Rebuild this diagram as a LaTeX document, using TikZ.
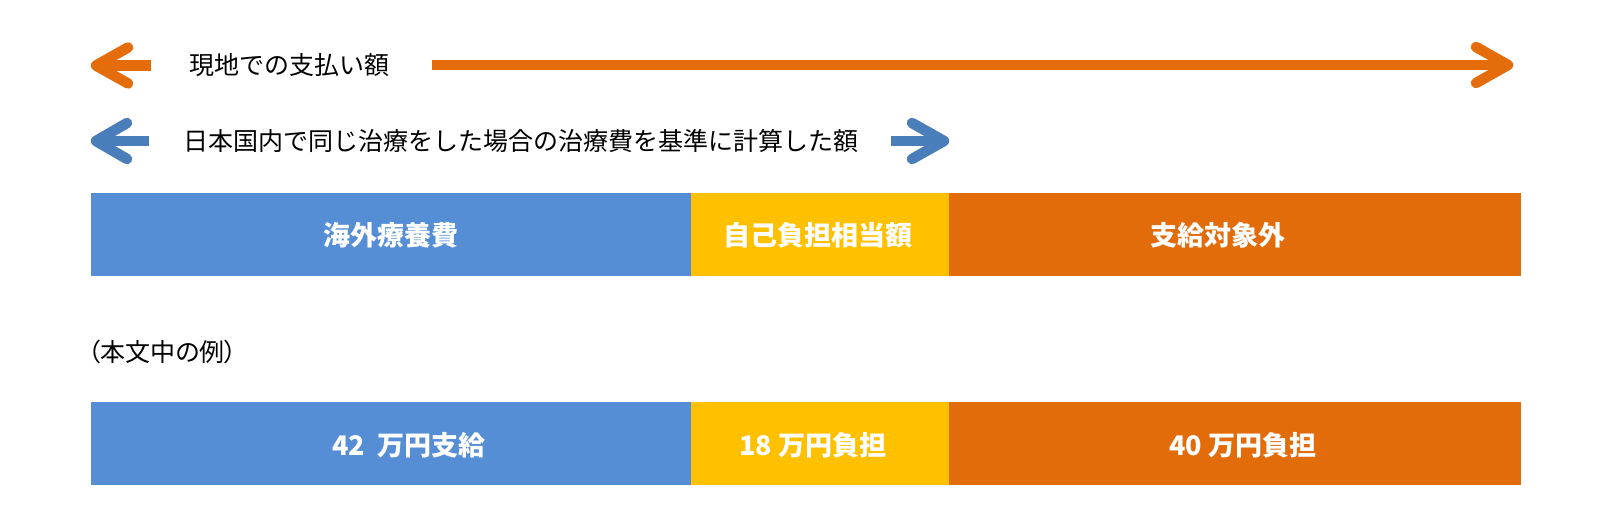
\documentclass[tikz,border=0pt]{standalone}
\usepackage{fontspec}
\setmainfont{Noto Sans CJK JP}
\newfontfamily\palfont[RawFeature=+palt]{Noto Sans CJK JP}
\definecolor{barblue}{HTML}{558ED5}
\definecolor{baryellow}{HTML}{FFC000}
\definecolor{barorange}{HTML}{E26C0A}
\definecolor{arrblue}{HTML}{4A7EBB}
\definecolor{arrorange}{HTML}{E46C0A}
\tikzset{
  seg/.style={inner sep=0pt, outer sep=0pt, minimum height=83pt},
  seglabel/.style={text=white, font=\fontsize{27}{30}\selectfont\bfseries, inner sep=0pt},
  toptext/.style={anchor=west, inner sep=0pt, font=\fontsize{25}{28}\selectfont, text=black},
  shaft/.style={line width=10.5pt, line cap=butt},
  chev/.style={line width=10.5pt, line cap=round, line join=round}
}
\begin{document}
\begin{tikzpicture}[x=1pt,y=-1pt]
\useasboundingbox[fill=white] (0,0) rectangle (1621,532);
% row 1: orange arrows
\coordinate (oLv) at (96,65.5);
\coordinate (oLe) at (151,65.5);
\coordinate (oLa) at (128,47.5);
\coordinate (oLb) at (128,83.5);
\draw[shaft, arrorange] (oLv) -- (oLe);
\draw[chev, arrorange] (oLa) -- (oLv) -- (oLb);
\node[toptext] (t1) at (189,65.5) {現地での支払い額};
\coordinate (oRs) at (432,65);
\coordinate (oRv) at (1508,65);
\coordinate (oRa) at (1476,47);
\coordinate (oRb) at (1476,83);
\draw[shaft, arrorange] (oRs) -- (oRv);
\draw[chev, arrorange] (oRa) -- (oRv) -- (oRb);
% row 2: blue arrows
\coordinate (bLv) at (96,141);
\coordinate (bLe) at (149,141);
\coordinate (bLa) at (127,123);
\coordinate (bLb) at (127,159);
\draw[shaft, arrblue] (bLv) -- (bLe);
\draw[chev, arrblue] (bLa) -- (bLv) -- (bLb);
\node[toptext] (t2) at (183,141) {日本国内で同じ治療をした場合の治療費を基準に計算した額};
\coordinate (bRs) at (891,141);
\coordinate (bRv) at (944,141);
\coordinate (bRa) at (912,123);
\coordinate (bRb) at (912,159);
\draw[shaft, arrblue] (bRs) -- (bRv);
\draw[chev, arrblue] (bRa) -- (bRv) -- (bRb);
% top bar
\node[seg, fill=barblue, minimum width=600pt] (s1) at (391,234.5) {};
\node[seg, fill=baryellow, minimum width=258pt] (s2) at (820,234.5) {};
\node[seg, fill=barorange, minimum width=572pt] (s3) at (1235,234.5) {};
\node[seglabel] (l1) at (391,235) {海外療養費};
\node[seglabel] (l2) at (818,235) {自己負担相当額};
\node[seglabel] (l3) at (1218,235) {支給対象外};
% example caption
\node[toptext, font=\fontsize{25}{28}\palfont] (ex) at (88,352) {（本文中の例）};
% bottom bar
\node[seg, fill=barblue, minimum width=600pt] (u1) at (391,443) {};
\node[seg, fill=baryellow, minimum width=258pt] (u2) at (820,443) {};
\node[seg, fill=barorange, minimum width=572pt] (u3) at (1235,443) {};
\node[seglabel] (m1) at (409,445) {42\ \ 万円支給};
\node[seglabel] (m2) at (813,445) {18 万円負担};
\node[seglabel] (m3) at (1243,445) {40 万円負担};
\end{tikzpicture}
\end{document}
